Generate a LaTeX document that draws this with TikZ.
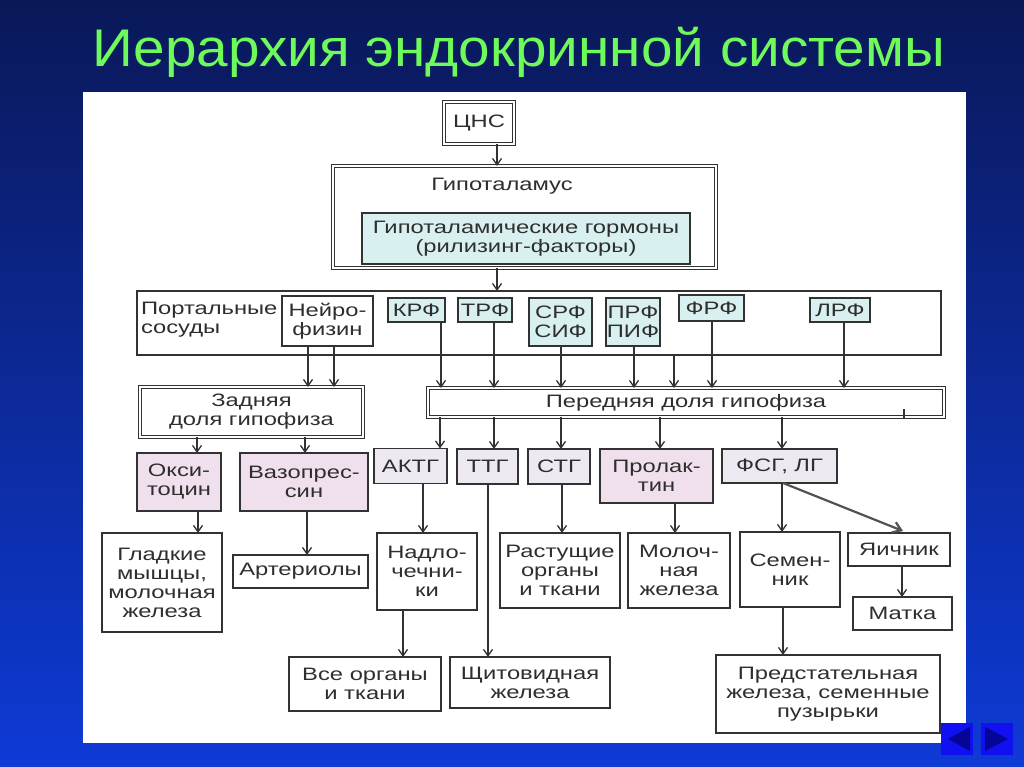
\documentclass[tikz,border=0pt]{standalone}
\usepackage{fontspec}
\setmainfont{Liberation Sans}[FakeStretch=1.32]
\newfontfamily\titlefont{Liberation Sans}
\usetikzlibrary{arrows.meta,calc}
\definecolor{bgtop}{RGB}{10,24,88}
\definecolor{bgbot}{RGB}{14,58,214}
\definecolor{ttl}{RGB}{110,250,90}
\definecolor{ln}{RGB}{50,50,50}
\definecolor{cyanf}{RGB}{216,240,240}
\definecolor{pinkf}{RGB}{240,224,238}
\definecolor{lavf}{RGB}{238,232,240}
\definecolor{navsq}{RGB}{16,16,240}
\definecolor{navtri}{RGB}{6,6,150}
\begin{document}
\begin{tikzpicture}[x=1pt,y=-1pt,
 every node/.style={font=\fontsize{18}{19}\selectfont, text=black!82, inner sep=0pt, outer sep=0pt, align=center},
 box/.style={draw=ln, line width=1.3pt, fill=white},
 dbox/.style={draw=ln, line width=1.4pt, double=white, double distance=1.4pt},
 cbox/.style={box, fill=cyanf},
 pbox/.style={box, fill=pinkf},
 lbox/.style={box, fill=lavf},
 arr/.style={draw=ln, line width=1.3pt, -{Straight Barb[length=6.5pt,width=9pt]}},
 darr/.style={draw=black!68, line width=2.2pt, -{Straight Barb[length=8pt,width=11pt]}},
 bx/.style 2 args={minimum width=#1pt, minimum height=#2pt},
]
\useasboundingbox (0,0) rectangle (1024,767);
\shade[top color=bgtop, bottom color=bgbot] (0,0) rectangle (1024,767);
\fill[white] (83,92) rectangle (966,743);

\node[anchor=base, text=ttl, font=\titlefont\fontsize{53}{56}\selectfont] (title) at (519,67)
  {\resizebox{852pt}{\height}{Иерархия эндокринной системы}};

% top
\node[dbox, fill=white, bx={70}{42}] (cns) at (479,123) {ЦНС};
\node[dbox, fill=white, bx={383}{102}] (hyp) at (524.5,217) {};
\node (hyptxt) at (502,186) {Гипоталамус};
\node[cbox, bx={328}{51}] (horm) at (526,238.5) {Гипоталамические гормоны\\(рилизинг-факторы)};

% portal row
\node[box, bx={804}{64}] (portal) at (539,323) {};
\node[anchor=west, align=left] (portxt) at (141,319.5) {Портальные\\сосуды};
\node[box, bx={91}{50}] (neuro) at (327.5,321) {Нейро-\\физин};
\node[cbox, bx={57}{24}] (krf) at (416.5,310) {КРФ};
\node[cbox, bx={54}{24}] (trf) at (485,310) {ТРФ};
\node[cbox, bx={63}{48}] (srf) at (560.5,322) {СРФ\\СИФ};
\node[cbox, bx={54}{48}] (prf) at (633,322) {ПРФ\\ПИФ};
\node[cbox, bx={65}{26}] (frf) at (711.5,308) {ФРФ};
\node[cbox, bx={60}{24}] (lrf) at (840,310) {ЛРФ};

% lobes
\node[dbox, fill=white, bx={223}{50}] (zad) at (251.5,412) {Задняя\\доля гипофиза};
\node[dbox, fill=white, bx={516}{29}] (per) at (686,402.5) {Передняя доля гипофиза};
\draw[ln, line width=1.5pt] (904,409) -- (904,419);

% hormones row
\node[pbox, bx={84}{58}] (oxy) at (179,482) {Окси-\\тоцин};
\node[pbox, bx={128}{58}] (vaz) at (304,482) {Вазопрес-\\син};
\node[lbox, bx={73}{35}] (aktg) at (410.5,466) {АКТГ};
\node[lbox, bx={61}{35}] (ttg) at (487.5,466.5) {ТТГ};
\node[lbox, bx={62}{35}] (stg) at (559,466.5) {СТГ};
\node[pbox, bx={113}{54}] (prol) at (656.5,476) {Пролак-\\тин};
\node[lbox, bx={115}{34}] (fsg) at (779.5,466) {ФСГ, ЛГ};

% targets
\node[box, bx={120}{99}] (glad) at (162,582.5) {Гладкие\\мышцы,\\молочная\\железа};
\node[box, bx={135}{33}] (art) at (300.5,571.5) {Артериолы};
\node[box, bx={100}{77}] (nad) at (427,571.5) {Надло-\\чечни-\\ки};
\node[box, bx={120}{75}] (rast) at (560,570.5) {Растущие\\органы\\и ткани};
\node[box, bx={102}{75}] (mol) at (679,570.5) {Молоч-\\ная\\железа};
\node[box, bx={100}{75}] (sem) at (790,569.5) {Семен-\\ник};
\node[box, bx={102}{33}] (yai) at (899,549.5) {Яичник};
\node[box, bx={99}{33}] (mat) at (902.5,613.5) {Матка};
\node[box, bx={152}{54}] (vse) at (365,684) {Все органы\\и ткани};
\node[box, bx={160}{51}] (shch) at (530,682.5) {Щитовидная\\железа};
\node[box, bx={224}{78}] (pred) at (828,694) {Предстательная\\железа, семенные\\пузырьки};

% arrows
\draw[arr] ([xshift=18pt]cns.south) -- ([xshift=18pt]cns.south |- hyp.north);
\draw[arr] ([xshift=-27.5pt]hyp.south) -- ([xshift=-27.5pt]hyp.south |- portal.north);
\draw[arr] ([xshift=-19.5pt]neuro.south) -- ([xshift=-19.5pt]neuro.south |- zad.north);
\draw[arr] ([xshift=6.5pt]neuro.south) -- ([xshift=6.5pt]neuro.south |- zad.north);
\draw[arr] ([xshift=24.5pt]krf.south) -- ([xshift=24.5pt]krf.south |- per.north);
\draw[arr] ([xshift=9pt]trf.south) -- ([xshift=9pt]trf.south |- per.north);
\draw[arr] ([xshift=0.5pt]srf.south) -- ([xshift=0.5pt]srf.south |- per.north);
\draw[arr] ([xshift=1pt]prf.south) -- ([xshift=1pt]prf.south |- per.north);
\draw[arr] ([xshift=135pt]portal.south) -- ([xshift=135pt]portal.south |- per.north);
\draw[arr] ([xshift=0.5pt]frf.south) -- ([xshift=0.5pt]frf.south |- per.north);
\draw[arr] ([xshift=4pt]lrf.south) -- ([xshift=4pt]lrf.south |- per.north);

\draw[arr] ([xshift=-54.5pt]zad.south) -- ([xshift=-54.5pt]zad.south |- oxy.north);
\draw[arr] ([xshift=53.5pt]zad.south) -- ([xshift=53.5pt]zad.south |- vaz.north);
\draw[arr] ([xshift=-246pt]per.south) -- ([xshift=-246pt]per.south |- aktg.north);
\draw[arr] ([xshift=-192pt]per.south) -- ([xshift=-192pt]per.south |- ttg.north);
\draw[arr] ([xshift=-125pt]per.south) -- ([xshift=-125pt]per.south |- stg.north);
\draw[arr] ([xshift=-26pt]per.south) -- ([xshift=-26pt]per.south |- prol.north);
\draw[arr] ([xshift=96pt]per.south) -- ([xshift=96pt]per.south |- fsg.north);

\draw[arr] ([xshift=19pt]oxy.south) -- ([xshift=19pt]oxy.south |- glad.north);
\draw[arr] ([xshift=3pt]vaz.south) -- ([xshift=3pt]vaz.south |- art.north);
\draw[arr] ([xshift=12.5pt]aktg.south) -- ([xshift=12.5pt]aktg.south |- nad.north);
\draw[arr] ([xshift=0.5pt]ttg.south) -- ([xshift=0.5pt]ttg.south |- shch.north);
\draw[arr] ([xshift=3pt]stg.south) -- ([xshift=3pt]stg.south |- rast.north);
\draw[arr] ([xshift=18.5pt]prol.south) -- ([xshift=18.5pt]prol.south |- mol.north);
\draw[arr] ([xshift=2.5pt]fsg.south) -- ([xshift=2.5pt]fsg.south |- sem.north);
\draw[darr] ([xshift=3.5pt]fsg.south) -- ([xshift=4pt,yshift=2pt]yai.north);
\draw[arr] ([xshift=3pt]yai.south) -- ([xshift=3pt]yai.south |- mat.north);
\draw[arr] ([xshift=-24pt]nad.south) -- ([xshift=-24pt]nad.south |- vse.north);
\draw[arr] ([xshift=-7pt]sem.south) -- ([xshift=-7pt]sem.south |- pred.north);

% navigation buttons
\fill[navsq] (941,723) rectangle (973,755);
\fill[navtri] (948,739) -- (970,727) -- (970,751) -- cycle;
\fill[navsq] (981,723) rectangle (1013,755);
\fill[navtri] (985,727) -- (1008,739) -- (985,751) -- cycle;
\end{tikzpicture}
\end{document}
